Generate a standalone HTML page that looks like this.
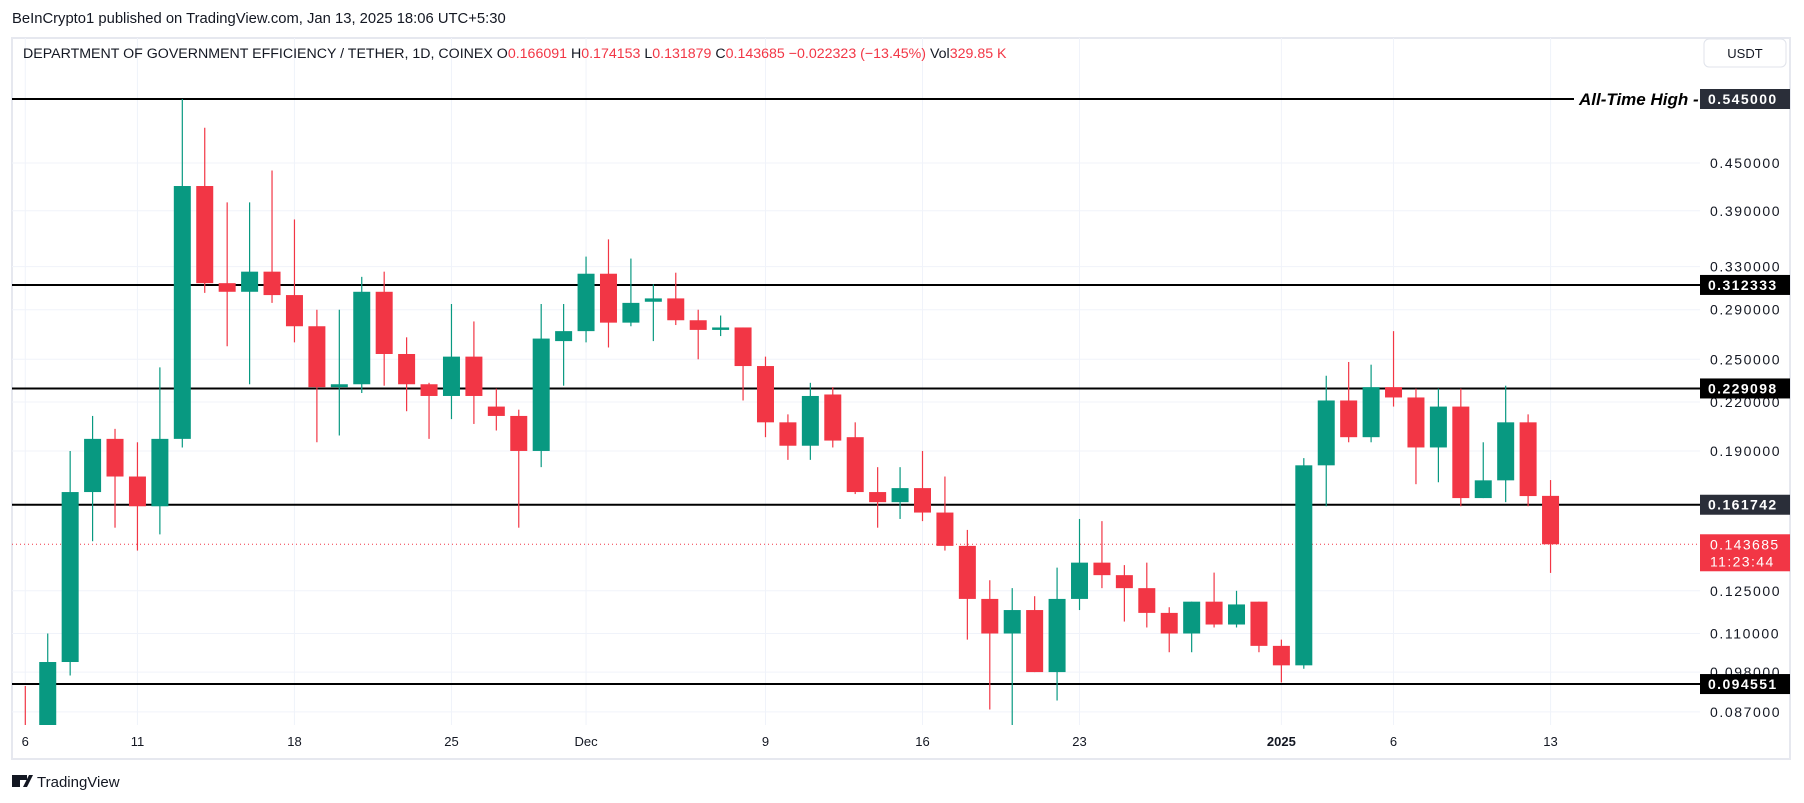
<!DOCTYPE html>
<html><head><meta charset="utf-8"><style>
body{margin:0;background:#fff;width:1804px;height:803px;overflow:hidden;font-family:"Liberation Sans",sans-serif}
svg{position:absolute;left:0;top:0}
</style></head><body>
<svg id="c" width="1804" height="803" xmlns="http://www.w3.org/2000/svg">
<defs><clipPath id="pc"><rect x="12" y="38" width="1688" height="687"/></clipPath></defs>
<text x="12" y="23" font-size="14.8" fill="#131722">BeInCrypto1 published on TradingView.com, Jan 13, 2025 18:06 UTC+5:30</text>
<rect x="12" y="38" width="1778" height="721" fill="none" stroke="#e6e8ef" stroke-width="2"/>
<g id="grid"></g>
<g id="hl"></g>
<g id="candles" clip-path="url(#pc)"></g>
<g id="axis"></g>
<text x="23" y="58" font-size="14.2" fill="#131722">DEPARTMENT OF GOVERNMENT EFFICIENCY / TETHER, 1D, COINEX <tspan fill="#131722">O</tspan><tspan fill="#f23645">0.166091</tspan> <tspan fill="#131722">H</tspan><tspan fill="#f23645">0.174153</tspan> <tspan fill="#131722">L</tspan><tspan fill="#f23645">0.131879</tspan> <tspan fill="#131722">C</tspan><tspan fill="#f23645">0.143685 −0.022323 (−13.45%)</tspan> <tspan fill="#131722">Vol</tspan><tspan fill="#f23645">329.85 K</tspan></text>
<rect x="1704" y="39" width="82" height="28" rx="5" fill="#fff" stroke="#e0e3eb"/>
<text x="1745" y="58" font-size="13" text-anchor="middle" fill="#131722">USDT</text>
<g><rect x="12" y="775" width="8" height="12" fill="#131722"/><rect x="20" y="775" width="7" height="5" fill="#131722"/><path d="M23 787 L29 775 L33 775 L27 787Z" fill="#131722"/>
<text x="37" y="787" font-size="15" fill="#131722">TradingView</text></g>
</svg>
<script>
const dayLabels=["6","11","18","25","Dec","9","16","23","2025","6","13"];
const dayIdx=[0,5,12,19,25,33,40,47,56,61,68];
const opens=[0.080,0.080,0.101,0.168,0.197,0.176,0.161,0.197,0.42,0.314,0.306,0.325,0.303,0.276,0.23,0.232,0.306,0.254,0.232,0.224,0.252,0.217,0.211,0.19,0.264,0.272,0.323,0.279,0.297,0.300,0.281,0.273,0.275,0.245,0.207,0.193,0.225,0.198,0.168,0.163,0.170,0.158,0.143,0.122,0.110,0.118,0.098,0.122,0.136,0.131,0.126,0.117,0.110,0.121,0.113,0.121,0.106,0.100,0.182,0.221,0.198,0.23,0.223,0.192,0.217,0.165,0.174,0.207,0.166091];
const highs=[0.094,0.110,0.19,0.211,0.203,0.195,0.244,0.545,0.50,0.40,0.40,0.44,0.38,0.29,0.29,0.32,0.325,0.267,0.233,0.295,0.28,0.229,0.215,0.295,0.295,0.34,0.358,0.338,0.313,0.324,0.29,0.285,0.275,0.252,0.212,0.233,0.23,0.207,0.181,0.181,0.19,0.176,0.150,0.129,0.126,0.123,0.134,0.155,0.154,0.135,0.136,0.119,0.121,0.132,0.125,0.121,0.108,0.186,0.238,0.248,0.246,0.272,0.229,0.229,0.229,0.195,0.231,0.212,0.174153];
const lows=[0.076,0.078,0.097,0.145,0.151,0.141,0.148,0.192,0.305,0.26,0.232,0.296,0.263,0.195,0.199,0.226,0.231,0.214,0.197,0.209,0.206,0.202,0.151,0.181,0.231,0.263,0.259,0.276,0.264,0.277,0.25,0.268,0.221,0.198,0.185,0.185,0.192,0.167,0.151,0.155,0.154,0.141,0.108,0.0876,0.083,0.098,0.090,0.118,0.126,0.114,0.112,0.104,0.104,0.112,0.112,0.104,0.095,0.099,0.161,0.195,0.195,0.217,0.172,0.173,0.161,0.165,0.163,0.161,0.131879];
const closes=[0.078,0.101,0.168,0.197,0.176,0.161,0.197,0.42,0.314,0.306,0.325,0.303,0.276,0.23,0.232,0.306,0.254,0.232,0.224,0.252,0.224,0.211,0.19,0.266,0.272,0.323,0.279,0.296,0.300,0.281,0.273,0.275,0.245,0.207,0.193,0.224,0.196,0.168,0.163,0.170,0.158,0.143,0.122,0.110,0.118,0.098,0.122,0.136,0.131,0.126,0.117,0.110,0.121,0.113,0.120,0.106,0.100,0.182,0.221,0.198,0.23,0.223,0.192,0.217,0.165,0.174,0.207,0.166,0.143685];
const tickVals=[0.45,0.39,0.33,0.29,0.25,0.22,0.19,0.125,0.11,0.098,0.087];
const levelVals=[0.545,0.312333,0.229098,0.161742,0.094551];
const lastPrice=0.143685;

const NS="http://www.w3.org/2000/svg";
const yOf=p=>99+(Math.log(0.545)-Math.log(p))*334;
const xOf=i=>25.3+i*22.43;
function mk(parent,tag,attrs){const e=document.createElementNS(NS,tag);for(const k in attrs)e.setAttribute(k,attrs[k]);document.getElementById(parent).appendChild(e);return e;}

dayIdx.forEach((d,i)=>{
  const g=mk('grid','line',{x1:xOf(d),x2:xOf(d),y1:38,y2:725,stroke:'#f0f3fa','stroke-width':1});
  
  
  const t=mk('axis','text',{x:xOf(d),y:746,'font-size':13,'text-anchor':'middle',fill:'#131722','font-weight':dayLabels[i]==='2025'?'bold':'normal'});
  t.textContent=dayLabels[i];
  
  
});
tickVals.forEach(v=>{
  const g=mk('grid','line',{x1:12,x2:1700,y1:yOf(v),y2:yOf(v),stroke:'#f0f3fa','stroke-width':1});
  
  
  const t=mk('axis','text',{x:1710,y:yOf(v)+5,'font-size':14,fill:'#131722','letter-spacing':'1.6'});
  t.textContent=v.toFixed(6);
  
  
});
const lp=mk('hl','line',{x1:12,x2:1700,y1:yOf(lastPrice),y2:yOf(lastPrice),stroke:'#f23645','stroke-width':1,'stroke-dasharray':'1 3'});



opens.forEach((o,i)=>{
  const c=closes[i],up=c>=o,col=up?'#089981':'#f23645',x=xOf(i);
  const w=mk('candles','line',{x1:x,x2:x,y1:yOf(highs[i]),y2:yOf(lows[i]),stroke:col,'stroke-width':1.2});
  
  
  const top=yOf(Math.max(o,c)),bot=yOf(Math.min(o,c));
  const b=mk('candles','rect',{x:x-8.5,y:top,width:17,height:Math.max(1,bot-top),fill:col});
  
  
});

levelVals.forEach((v,i)=>{
  const y=yOf(v);
  const l=mk('hl','line',{x1:12,x2:i===0?1574:1700,y1:y,y2:y,stroke:'#000','stroke-width':2});
  
  
  const dark=(i===0||i===3);
  const r=mk('axis','rect',{x:1700,y:y-10,width:90,height:20,fill:dark?'#2a2e39':'#000'});
  
  
  const t=mk('axis','text',{x:1708,y:y+5,'font-size':14,'font-weight':'bold',fill:'#fff','letter-spacing':'1.4'});
  t.textContent=v.toFixed(6);
  
  
});
const ath=mk('hl','text',{x:1579,y:yOf(0.545)+6,'font-size':17,'font-weight':'bold','font-style':'italic',fill:'#000'});
ath.textContent='All-Time High -';



const ly=yOf(lastPrice);
const pr=mk('axis','rect',{x:1700,y:ly-10,width:90,height:37,fill:'#f23645'});


const pt=mk('axis','text',{x:1710,y:ly+5,'font-size':14,fill:'#fff','letter-spacing':'1.4'});
pt.textContent=lastPrice.toFixed(6);


const ct=mk('axis','text',{x:1710,y:ly+22,'font-size':14,fill:'#fff','letter-spacing':'1.4'});
ct.textContent='11:23:44';


</script>
</body></html>
